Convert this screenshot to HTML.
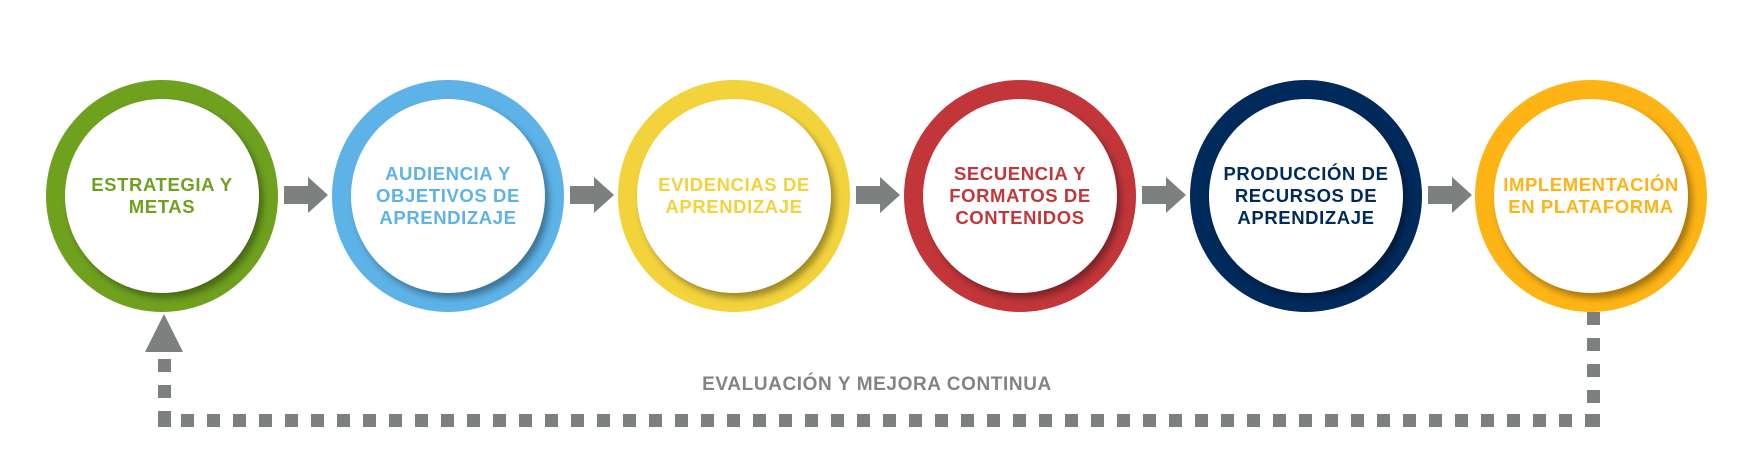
<!DOCTYPE html>
<html><head><meta charset="utf-8"><style>
body{margin:0;width:1764px;height:471px;background:#fff;position:relative;overflow:hidden;font-family:"Liberation Sans",sans-serif;}
.c{position:absolute;top:80px;width:232px;height:232px;border-radius:50%;}
.w{position:absolute;left:19px;top:19px;width:194px;height:194px;border-radius:50%;background:#fff;box-shadow:4px 5px 7px rgba(0,0,0,0.35);}
.t{position:absolute;left:-30px;width:292px;top:0;height:232px;display:flex;align-items:center;justify-content:center;text-align:center;font-weight:bold;font-size:18.5px;line-height:22px;letter-spacing:0.6px;}
.a{position:absolute;top:177px;width:0;height:0;}
.a .b{position:absolute;left:0;top:9px;width:25px;height:18px;background:#7c817f;}
.a .h{position:absolute;left:24px;top:0;border-left:20px solid #7c817f;border-top:18px solid transparent;border-bottom:18px solid transparent;}
.d{position:absolute;background:#7c817f;}
</style></head><body>
<div class="c" style="left:46px;background:#6fa11f"><div class="w"></div><div class="t" style="color:#6fa11f">ESTRATEGIA Y<br>METAS</div></div>
<div class="c" style="left:332px;background:#5db3e8"><div class="w"></div><div class="t" style="color:#5db3e8">AUDIENCIA Y<br>OBJETIVOS DE<br>APRENDIZAJE</div></div>
<div class="c" style="left:618px;background:#f3d33c"><div class="w"></div><div class="t" style="color:#f3d33c">EVIDENCIAS DE<br>APRENDIZAJE</div></div>
<div class="c" style="left:904px;background:#c2363a"><div class="w"></div><div class="t" style="color:#c2363a">SECUENCIA Y<br>FORMATOS DE<br>CONTENIDOS</div></div>
<div class="c" style="left:1190px;background:#002a5c"><div class="w"></div><div class="t" style="color:#002a5c">PRODUCCIÓN DE<br>RECURSOS DE<br>APRENDIZAJE</div></div>
<div class="c" style="left:1475px;background:#fdb414"><div class="w"></div><div class="t" style="color:#fdb414">IMPLEMENTACIÓN<br>EN PLATAFORMA</div></div>

<div class="a" style="left:284px"><div class="b"></div><div class="h"></div></div>
<div class="a" style="left:570px"><div class="b"></div><div class="h"></div></div>
<div class="a" style="left:856px"><div class="b"></div><div class="h"></div></div>
<div class="a" style="left:1142px"><div class="b"></div><div class="h"></div></div>
<div class="a" style="left:1428px"><div class="b"></div><div class="h"></div></div>

<!-- up arrow -->
<div style="position:absolute;left:145px;top:314px;border-bottom:38px solid #7c817f;border-left:19.5px solid transparent;border-right:19.5px solid transparent;"></div>
<div class="d" style="left:158px;top:359px;width:13px;height:13px"></div>
<div class="d" style="left:158px;top:385px;width:13px;height:13px"></div>
<div class="d" style="left:158px;top:411px;width:13px;height:16px"></div>
<!-- horizontal dashes -->
<div style="position:absolute;left:181px;top:414px;width:1419px;height:13px;background:repeating-linear-gradient(90deg,#7c817f 0 13px,transparent 13px 26px);"></div>
<!-- right vertical -->
<div style="position:absolute;left:1587px;top:312px;width:13px;height:104px;background:repeating-linear-gradient(180deg,#7c817f 0 13px,transparent 13px 26px);"></div>
<div class="d" style="left:1587px;top:414px;width:13px;height:13px"></div>

<div style="position:absolute;left:700px;top:374px;width:354px;text-align:center;font-weight:bold;font-size:19px;color:#808583;letter-spacing:0.6px;white-space:nowrap;">EVALUACIÓN Y MEJORA CONTINUA</div>
</body></html>
